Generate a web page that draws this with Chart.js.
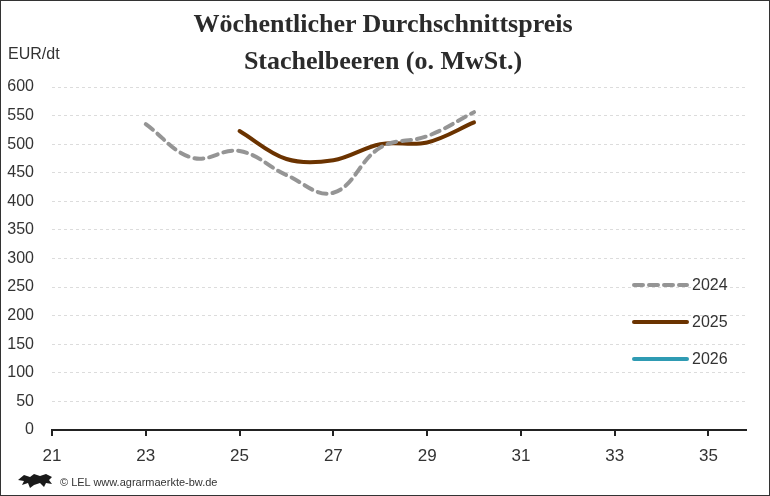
<!DOCTYPE html>
<html><head><meta charset="utf-8">
<script src="https://cdn.jsdelivr.net/npm/chart.js@4/dist/chart.umd.min.js"></script>
<style>
html,body{margin:0;padding:0;background:#fff;}
#wrap{position:relative;width:770px;height:496px;overflow:hidden;background:#fff;}
#frame{position:absolute;left:0;top:0;width:770px;height:496px;box-sizing:border-box;border:1px solid #333;pointer-events:none;}
canvas{position:absolute;left:0;top:0;}
.title{position:absolute;left:0;width:766px;text-align:center;font-family:"Liberation Serif",serif;font-weight:bold;font-size:26px;color:#2b2b2b;}
#unit{position:absolute;left:8px;top:45px;font-family:"Liberation Sans",Arial,sans-serif;font-size:16px;color:#333;}
#foot{position:absolute;left:60px;top:476px;font-family:"Liberation Sans Narrow","Liberation Sans",sans-serif;font-size:11px;color:#333;}
#logo{position:absolute;left:16px;top:471px;}
</style></head>
<body>
<div id="wrap">
<canvas id="c" width="770" height="496"></canvas>
<div class="title" style="top:9px">Wöchentlicher Durchschnittspreis</div>
<div class="title" style="top:46px">Stachelbeeren (o. MwSt.)</div>
<div id="unit">EUR/dt</div>
<svg id="logo" width="38" height="18" viewBox="0 0 38 18"><path d="M2 9 L8 4 L14 6 L18 3 L24 5 L30 3 L36 6 L33 9 L36 13 L30 12 L28 16 L24 12 L18 14 L14 17 L12 12 L6 14 L8 10 Z" fill="#1a1a1a"/></svg>
<div id="foot">© LEL www.agrarmaerkte-bw.de</div>
<div id="frame"></div>
</div>
<script>
const xTicks = [21, 23, 25, 27, 29, 31, 33, 35];
const weeks2024 = [23, 24, 25, 26, 27, 28, 29, 30];
const values2024 = [535, 476, 488, 446, 415, 494, 514, 556];
const weeks2025 = [25, 26, 27, 28, 29, 30];
const values2025 = [523, 474, 472, 500, 503, 538];
const weeks2026 = [];
const values2026 = [];
const seriesNames = ['2024', '2025', '2026'];

function pts(xs, ys){ return xs.map((x,i)=>({x:x, y:ys[i]})); }

const legendPlugin = {
  id: 'sideLegend',
  afterDraw(chart){
    const ctx = chart.ctx;
    const ys = [285, 322, 359];
    chart.data.datasets.forEach((ds,i)=>{
      const y = ys[i];
      ctx.save();
      ctx.strokeStyle = ds.borderColor;
      ctx.lineWidth = ds.borderWidth;
      ctx.lineCap = 'round';
      ctx.setLineDash(ds.borderDash || []);
      ctx.beginPath(); ctx.moveTo(634, y); ctx.lineTo(687, y); ctx.stroke();
      ctx.setLineDash([]);
      ctx.fillStyle = '#333';
      ctx.font = '16px "Liberation Sans", Arial, sans-serif';
      ctx.textBaseline = 'middle';
      ctx.fillText(ds.label, 692, y+1);
      ctx.restore();
    });
  }
};

new Chart(document.getElementById('c'), {
  type: 'line',
  data: {
    datasets: [
      {label: seriesNames[0], data: pts(weeks2024, values2024), borderColor: '#959595', borderWidth: 4, borderDash: [9,6], borderCapStyle:'round', tension: 0.4, pointRadius: 0, fill:false},
      {label: seriesNames[1], data: pts(weeks2025, values2025), borderColor: '#6b3300', borderWidth: 4, borderCapStyle:'round', tension: 0.35, pointRadius: 0, fill:false},
      {label: seriesNames[2], data: pts(weeks2026, values2026), borderColor: '#2f9bb3', borderWidth: 4, tension: 0.4, pointRadius: 0, fill:false}
    ]
  },
  options: {
    responsive: false,
    animation: false,
    devicePixelRatio: 1,
    layout: {padding: {top: 87, right: 24, left: 0, bottom: 0}},
    plugins: {legend: {display: false}, tooltip: {enabled: false}, title: {display: false}},
    scales: {
      x: {
        type: 'linear', min: 21, max: 35.8,
        afterBuildTicks(s){ s.ticks = xTicks.map(v=>({value:v})); },
        afterFit(s){ s.height = 66; },
        grid: {drawOnChartArea: false, drawTicks: true, tickLength: 6, color: '#222', lineWidth: 2},
        border: {display: true, color: '#222', width: 2},
        ticks: {padding: 10, color: '#333', font: {family: '"Liberation Sans Narrow", "Liberation Sans", sans-serif', size: 17}, maxRotation: 0, autoSkip: false}
      },
      y: {
        min: 0, max: 600,
        afterFit(s){ s.width = 52; },
        grid: {color: '#dcdcdc', lineWidth: 1, drawTicks: false},
        border: {display: false, dash: [3,3]},
        ticks: {stepSize: 50, padding: 18, color: '#333', font: {family: '"Liberation Sans", Arial, sans-serif', size: 16}}
      }
    }
  },
  plugins: [legendPlugin]
});
</script>
</body></html>
